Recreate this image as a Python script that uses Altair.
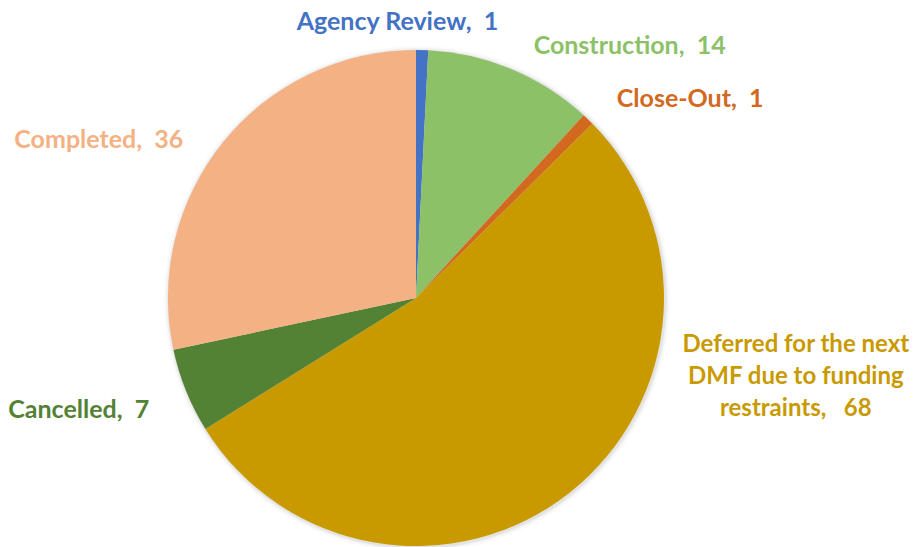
import altair as alt
import pandas as pd

NB = "\u00a0"
categories = ["Agency Review", "Construction", "Close-Out",
              "Deferred for the next DMF due to funding restraints",
              "Cancelled", "Completed"]
values = [1, 14, 1, 68, 7, 36]
colors = ["#4472C4", "#8CC168", "#D2691E", "#C99A00", "#548235", "#F4B183"]
labels = [f"Agency Review,{NB}{NB}1", f"Construction,{NB}{NB}14", f"Close-Out,{NB}{NB}1",
          f"Deferred for the next\nDMF due to funding\nrestraints,{NB}{NB}{NB}68",
          f"Cancelled,{NB}{NB}7", f"Completed,{NB}{NB}36"]

total = sum(values)
df = pd.DataFrame({"category": categories, "value": values,
                   "idx": list(range(len(categories))), "label": labels})

CX, CY, R = 408, 290, 248
color_scale = alt.Scale(domain=categories, range=colors)

base = alt.Chart(df)

shadows = []
for extra, op in [(5, 0.04), (3, 0.07), (1.5, 0.12)]:
    shadows.append(base.mark_arc(radius=R + extra, color="#808080", opacity=op).encode(
        theta=alt.Theta("value:Q", stack=True),
        order=alt.Order("idx:Q"),
        x=alt.value(CX + 1), y=alt.value(CY + 1),
    ))

pie = base.mark_arc(radius=R).encode(
    theta=alt.Theta("value:Q", stack=True),
    color=alt.Color("category:N", scale=color_scale, legend=None),
    order=alt.Order("idx:Q"),
    x=alt.value(CX), y=alt.value(CY),
)

# label offsets (dx, dy) relative to a point at radius 300 on the slice midpoint
offsets = [(-26, 24), (98, 25), (66, 17), (194, -189), (-59, 0), (-84, 31)]
sizes = [25, 25, 25, 24, 25, 25]

layers = shadows + [pie]
for cat, col, (dx, dy), fs in zip(categories, colors, offsets, sizes):
    t = base.transform_window(
        cum="sum(value)", sort=[alt.SortField("idx")], frame=[None, 0]
    ).transform_calculate(
        mid="datum.cum - datum.value / 2"
    ).transform_filter(
        alt.datum.category == cat
    ).mark_text(
        radius=300, dx=dx, dy=dy, font="Lato", fontSize=fs, fontWeight="bold",
        color=col, lineBreak="\n", lineHeight=32, align="center", baseline="middle"
    ).encode(
        theta=alt.Theta("mid:Q", scale=alt.Scale(domain=[0, total])),
        text="label:N",
        x=alt.value(CX), y=alt.value(CY),
    )
    layers.append(t)

chart = alt.layer(*layers).resolve_scale(theta="independent").properties(
    width=904, height=539, padding=0, autosize="none"
).configure_view(stroke=None)

chart.save("out.html", embed_options={"renderer": "svg", "actions": False})
